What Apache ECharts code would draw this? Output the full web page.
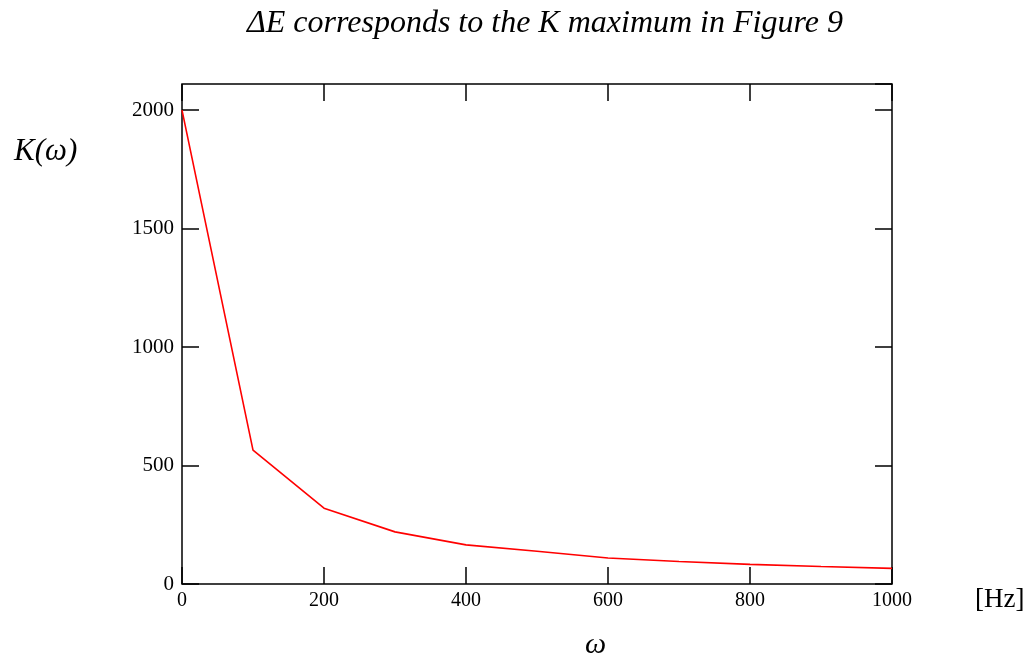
<!DOCTYPE html>
<html>
<head>
<meta charset="utf-8">
<script src="https://cdn.jsdelivr.net/npm/echarts@6/dist/echarts.min.js"></script>
<style>
html,body{margin:0;padding:0;background:#fff;}
#chart{width:1025px;height:666px;}
</style>
</head>
<body>
<div id="chart"></div>
<script>
var omega = [0, 100, 200, 300, 400, 500, 600, 700, 800, 900, 1000];
var kValues = [2000, 565, 320, 220, 165, 138, 110, 95, 83, 74, 66];
var xTicks = [0, 200, 400, 600, 800, 1000];
var yTicks = [0, 500, 1000, 1500, 2000];
var titleText = '\u0394E corresponds to the K maximum in Figure 9';
var yLabelText = 'K(\u03c9)';
var xLabelText = '\u03c9';
var unitText = '[Hz]';

var chart = echarts.init(document.getElementById('chart'), null, {renderer: 'canvas'});
var font = 'Liberation Serif';
var data = omega.map(function (x, i) { return [x, kValues[i]]; });

function yLab(v) { return yTicks.indexOf(v) >= 0 ? String(v) : ''; }
function xLab(v) { return xTicks.indexOf(v) >= 0 ? String(v) : ''; }

var tickStyle = {show: true, inside: true, length: 17, lineStyle: {color: '#000', width: 1.5}};

chart.setOption({
  animation: false,
  backgroundColor: '#fff',
  grid: {left: 182, right: 133, top: 84, bottom: 82, show: true, borderColor: '#000', borderWidth: 1.5, containLabel: false},
  xAxis: [{
    type: 'value', min: 0, max: 1000, interval: 200, position: 'bottom',
    axisLine: {show: false, onZero: false},
    axisTick: tickStyle,
    splitLine: {show: false},
    axisLabel: {color: '#000', fontFamily: font, fontSize: 20, margin: 7, formatter: xLab}
  }, {
    type: 'value', min: 0, max: 1000, interval: 200, position: 'top',
    axisLine: {show: false, onZero: false},
    axisTick: tickStyle,
    splitLine: {show: false},
    axisLabel: {show: false}
  }],
  yAxis: [{
    type: 'value', min: 0, max: 2110, interval: 500, position: 'left',
    axisLine: {show: false, onZero: false},
    axisTick: tickStyle,
    splitLine: {show: false},
    axisLabel: {color: '#000', fontFamily: font, fontSize: 21, margin: 8, formatter: yLab, showMaxLabel: false}
  }, {
    type: 'value', min: 0, max: 2110, interval: 500, position: 'right',
    axisLine: {show: false, onZero: false},
    axisTick: tickStyle,
    splitLine: {show: false},
    axisLabel: {show: false}
  }],
  series: [{
    type: 'line', data: data, xAxisIndex: 0, yAxisIndex: 0,
    showSymbol: false, symbol: 'none', clip: false,
    lineStyle: {color: '#ff0000', width: 1.6}
  }],
  graphic: [
    {type: 'text', left: 247, top: 8, style: {text: titleText, font: 'italic 32px "Liberation Serif"', fill: '#000'}},
    {type: 'text', left: 14, top: 136, style: {text: yLabelText, font: 'italic 31px "Liberation Serif"', fill: '#000'}},
    {type: 'text', left: 585, top: 630, style: {text: xLabelText, font: 'italic 30px "Liberation Serif"', fill: '#000'}},
    {type: 'text', left: 975, top: 586, style: {text: unitText, font: '27px "Liberation Serif"', fill: '#000'}}
  ]
});
</script>
</body>
</html>
